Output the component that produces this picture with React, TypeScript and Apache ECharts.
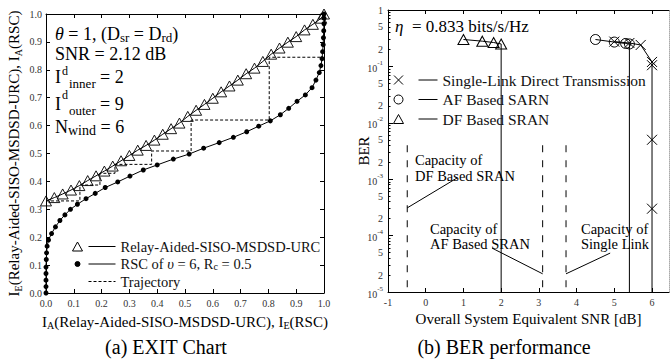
import React, { useEffect, useRef } from 'react';
import * as echarts from 'echarts';

const FONT = '"Liberation Serif", "Times New Roman", Times, serif';

// ---------- (a) EXIT chart ----------
const urcIA = [0, 0.03, 0.06, 0.09, 0.12, 0.15, 0.18, 0.21, 0.24, 0.27, 0.3, 0.33, 0.36, 0.39, 0.42, 0.45, 0.48, 0.51, 0.54, 0.57, 0.6, 0.63, 0.66, 0.69, 0.72, 0.75, 0.78, 0.81, 0.84, 0.87, 0.9, 0.93, 0.96, 0.99, 1.0];
const urcIE = [0.33, 0.342, 0.355, 0.369, 0.385, 0.403, 0.42, 0.437, 0.455, 0.474, 0.493, 0.512, 0.529, 0.548, 0.569, 0.589, 0.609, 0.633, 0.655, 0.676, 0.698, 0.721, 0.742, 0.763, 0.786, 0.806, 0.83, 0.856, 0.878, 0.899, 0.919, 0.943, 0.963, 0.985, 1.0];

const rscIE = [0, 0, 0, 0, 0, 0.001, 0.002, 0.004, 0.009, 0.02, 0.034, 0.05, 0.068, 0.088, 0.113, 0.144, 0.177, 0.213, 0.258, 0.302, 0.35, 0.4, 0.458, 0.515, 0.567, 0.623, 0.674, 0.722, 0.765, 0.807, 0.843, 0.873, 0.903, 0.933, 0.957, 0.971, 0.983, 0.989, 0.993, 0.995, 0.997, 0.998, 0.999, 1.0, 1.0, 1.0];
const rscIA = [0, 0.023, 0.046, 0.07, 0.093, 0.12, 0.144, 0.168, 0.19, 0.213, 0.237, 0.26, 0.28, 0.3, 0.318, 0.338, 0.357, 0.378, 0.398, 0.419, 0.441, 0.459, 0.48, 0.498, 0.519, 0.539, 0.558, 0.578, 0.598, 0.617, 0.639, 0.662, 0.687, 0.71, 0.736, 0.763, 0.79, 0.815, 0.84, 0.865, 0.89, 0.915, 0.94, 0.965, 0.985, 1.0];

const trajX = [0, 0.122, 0.122, 0.194, 0.194, 0.248, 0.248, 0.38, 0.38, 0.522, 0.522, 0.803, 0.803, 0.993];
const trajY = [0.33, 0.33, 0.387, 0.387, 0.429, 0.429, 0.461, 0.461, 0.509, 0.509, 0.62, 0.62, 0.845, 0.845];

// ---------- (b) BER performance ----------
const sdtSNR = [5.0, 5.4, 5.7, 6.0, 6.0, 6.0, 6.0, 6.0];
const sdtBER = [0.275, 0.26, 0.24, 0.12, 0.105, 0.005, 0.0003, 1e-5];
const afSNR = [4.5, 5.0, 5.3, 5.4, 5.4];
const afBER = [0.3, 0.27, 0.255, 0.25, 1e-5];
const dfSNR = [1.0, 1.5, 1.8, 2.0, 2.0];
const dfBER = [0.3, 0.28, 0.265, 0.25, 1e-5];
const capacitySNR = [-0.49, 3.1, 3.72];
const capacityBER = [4e-3, 1e-5];

const berLabelValues = [1, 0.5, 0.2, 0.1, 0.05, 0.02, 0.01, 0.005, 0.002, 0.001, 5e-4, 2e-4, 1e-4, 5e-5, 2e-5, 1e-5];
const berMajorValues = [1, 0.1, 0.01, 0.001, 1e-4, 1e-5];
const berMinorValues = [
  0.9, 0.8, 0.7, 0.6, 0.5, 0.4, 0.3, 0.2,
  0.09, 0.08, 0.07, 0.06, 0.05, 0.04, 0.03, 0.02,
  0.009, 0.008, 0.007, 0.006, 0.005, 0.004, 0.003, 0.002,
  9e-4, 8e-4, 7e-4, 6e-4, 5e-4, 4e-4, 3e-4, 2e-4,
  9e-5, 8e-5, 7e-5, 6e-5, 5e-5, 4e-5, 3e-5, 2e-5,
];
const snrTicks = [-1, 0, 1, 2, 3, 4, 5, 6];

const zip = (xs: number[], ys: number[]) => xs.map((x, i) => [x, ys[i]]);
const dropLast = (xs: number[], ys: number[]) =>
  xs.map((x, i) => (i === xs.length - 1 ? { value: [x, ys[i]], symbol: 'none' } : [x, ys[i]]));

const axisColor = '#000';
const labelColor = '#333';

const frameAxis = (extra: any) => ({
  splitLine: { show: false },
  axisLine: { show: true, onZero: false, lineStyle: { color: axisColor, width: 1 } },
  axisTick: { show: true, inside: true, length: 4, lineStyle: { color: axisColor } },
  axisLabel: { show: false },
  ...extra,
});

const subRich = {
  s: { fontFamily: FONT, fontSize: 10, lineHeight: 10, verticalAlign: 'bottom', color: '#000' },
};

const exitLabel = {
  show: true,
  fontFamily: FONT,
  fontSize: 10,
  color: labelColor,
  margin: 5,
  formatter: (v: number) => v.toFixed(1),
};

const berLabelFormatter = (v: number) => {
  const e = Math.floor(v + 1e-6);
  const m = Math.round(Math.pow(10, v - e));
  if (m === 1) return e === 0 ? '1' : `{b|10}{s|${e}}`;
  return String(m);
};

const legendLabels: Record<string, string> = {
  'Relay-Aided-SISO-MSDSD-URC': 'Relay-Aided-SISO-MSDSD-URC',
  RSC: 'RSC of {it|υ} = 6, R{s|c} = 0.5',
  Trajectory: 'Trajectory',
  'Single-Link Direct Transmission': 'Single-Link Direct Transmission',
  'AF Based SARN': 'AF Based SARN',
  'DF Based SRAN': 'DF Based SRAN',
};

const legendText = (size: number) => ({
  fontFamily: FONT,
  fontSize: size,
  color: '#111',
  rich: {
    it: { fontFamily: FONT, fontSize: size, fontStyle: 'italic', color: '#111' },
    s: { fontFamily: FONT, fontSize: size * 0.7, lineHeight: 9, verticalAlign: 'bottom', color: '#111' },
  },
});

const bbox42 = ' M0,0 M43,11';
const bbox44 = ' M0,0 M44,12';

const textEl = (text: string, x: number, y: number, size: number, extra: any = {}) => ({
  type: 'text',
  x,
  y,
  silent: true,
  style: {
    text,
    fontFamily: FONT,
    fontSize: size,
    fill: '#000',
    verticalAlign: 'middle',
    ...extra,
  },
});

const annRich = {
  it: { fontFamily: FONT, fontSize: 18, fontStyle: 'italic', lineHeight: 20, fill: '#000' },
  s: { fontFamily: FONT, fontSize: 13, lineHeight: 11, verticalAlign: 'bottom', fill: '#000' },
  t: { fontFamily: FONT, fontSize: 14, lineHeight: 11, verticalAlign: 'bottom', fill: '#000' },
};

const option: any = {
  animation: false,
  backgroundColor: '#fff',
  grid: [
    { left: 46, top: 14, width: 278, height: 279, outerBoundsMode: 'none', containLabel: false },
    { left: 388, top: 10, width: 281, height: 282, outerBoundsMode: 'none', containLabel: false },
  ],
  xAxis: [
    frameAxis({
      gridIndex: 0,
      type: 'value',
      position: 'bottom',
      min: 0,
      max: 1,
      interval: 0.1,
      axisLabel: exitLabel,
      name: 'I{s|A}(Relay-Aided-SISO-MSDSD-URC), I{s|E}(RSC)',
      nameLocation: 'middle',
      nameGap: 14,
      nameTextStyle: { fontFamily: FONT, fontSize: 15, lineHeight: 18, color: '#000', verticalAlign: 'top', rich: subRich },
    }),
    frameAxis({ gridIndex: 0, type: 'value', position: 'top', min: 0, max: 1, interval: 0.1 }),
    frameAxis({
      gridIndex: 1,
      type: 'value',
      position: 'bottom',
      min: -1,
      max: 6.45,
      interval: 1,
      axisTick: { show: true, inside: true, length: 4, customValues: snrTicks, lineStyle: { color: axisColor } },
      axisLabel: {
        show: true,
        fontFamily: FONT,
        fontSize: 10,
        color: labelColor,
        margin: 5,
        customValues: snrTicks,
        formatter: (v: number) => String(Math.round(v)),
      },
      name: 'Overall System Equivalent SNR [dB]',
      nameLocation: 'middle',
      nameGap: 19,
      nameTextStyle: { fontFamily: FONT, fontSize: 15, color: '#000', verticalAlign: 'top' },
    }),
    frameAxis({
      gridIndex: 1,
      type: 'value',
      position: 'top',
      min: -1,
      max: 6.45,
      interval: 1,
      axisTick: { show: true, inside: true, length: 4, customValues: snrTicks, lineStyle: { color: axisColor } },
    }),
  ],
  yAxis: [
    frameAxis({
      gridIndex: 0,
      type: 'value',
      position: 'left',
      min: 0,
      max: 1,
      interval: 0.1,
      axisLabel: { ...exitLabel, margin: 4 },
      name: 'I{s|E}(Relay-Aided-SISO-MSDSD-URC), I{s|A}(RSC)',
      nameLocation: 'middle',
      nameGap: 23,
      nameTextStyle: { fontFamily: FONT, fontSize: 15, lineHeight: 18, color: '#000', rich: subRich },
    }),
    frameAxis({ gridIndex: 0, type: 'value', position: 'right', min: 0, max: 1, interval: 0.1 }),
    // data axis (log)
    {
      gridIndex: 1,
      type: 'log',
      logBase: 10,
      position: 'left',
      min: 1e-5,
      max: 1,
      splitLine: { show: false },
      axisLine: { show: true, onZero: false, lineStyle: { color: axisColor, width: 1 } },
      axisTick: { show: false },
      minorTick: { show: false },
      axisLabel: { show: false },
      name: 'BER',
      nameLocation: 'middle',
      nameGap: 17,
      nameTextStyle: { fontFamily: FONT, fontSize: 15, color: '#000' },
    },
    // labels + major ticks (log10 space overlay)
    {
      gridIndex: 1,
      type: 'value',
      position: 'left',
      min: -5,
      max: 0,
      splitLine: { show: false },
      axisLine: { show: false, onZero: false },
      axisTick: {
        show: true,
        inside: true,
        length: 5,
        customValues: berMajorValues.map((v) => Math.log10(v)),
        lineStyle: { color: axisColor },
      },
      axisLabel: {
        show: true,
        fontFamily: FONT,
        fontSize: 10,
        color: labelColor,
        margin: 5,
        customValues: berLabelValues.map((v) => Math.log10(v)),
        formatter: berLabelFormatter,
        rich: {
          b: { fontFamily: FONT, fontSize: 10, lineHeight: 14, verticalAlign: 'bottom', color: labelColor },
          s: { fontFamily: FONT, fontSize: 7, lineHeight: 6, verticalAlign: 'top', color: labelColor },
        },
      },
    },
    // minor ticks
    {
      gridIndex: 1,
      type: 'value',
      position: 'left',
      min: -5,
      max: 0,
      splitLine: { show: false },
      axisLine: { show: false, onZero: false },
      axisTick: {
        show: true,
        inside: true,
        length: 2.5,
        customValues: berMinorValues.map((v) => Math.log10(v)),
        lineStyle: { color: axisColor },
      },
      axisLabel: { show: false },
    },
    // right frame
    {
      gridIndex: 1,
      type: 'value',
      position: 'right',
      min: -5,
      max: 0,
      splitLine: { show: false },
      axisLine: { show: true, onZero: false, lineStyle: { color: '#aaa', width: 1, type: 'dotted' } },
      axisTick: { show: false },
      axisLabel: { show: false },
    },
  ],
  legend: [
    {
      left: 72,
      top: 239,
      orient: 'vertical',
      padding: 0,
      itemGap: 2.5,
      itemWidth: 43,
      itemHeight: 11,
      selectedMode: false,
      textStyle: legendText(14.5),
      formatter: (name: string) => legendLabels[name],
      data: [
        {
          name: 'Relay-Aided-SISO-MSDSD-URC',
          icon: 'path://M0,10 L5,1 L10,10 Z M16,5.5 L43,5.5' + bbox42,
          itemStyle: { color: 'rgba(0,0,0,0)', borderColor: '#000', borderWidth: 1 },
        },
        {
          name: 'RSC',
          icon: 'path://M2.5,5.5 A2.5,2.5 0 1 1 7.5,5.5 A2.5,2.5 0 1 1 2.5,5.5 Z M16,5.5 L43,5.5' + bbox42,
          itemStyle: { color: '#000', borderColor: '#000', borderWidth: 1 },
        },
        {
          name: 'Trajectory',
          icon: 'path://M16,5.5 L19,5.5 M21,5.5 L24,5.5 M26,5.5 L29,5.5 M31,5.5 L34,5.5 M36,5.5 L39,5.5 M41,5.5 L43,5.5' + bbox42,
          itemStyle: { color: 'rgba(0,0,0,0)', borderColor: '#000', borderWidth: 1 },
        },
      ],
    },
    {
      left: 393,
      top: 72,
      orient: 'vertical',
      padding: 0,
      itemGap: 3.5,
      itemWidth: 44,
      itemHeight: 12,
      selectedMode: false,
      textStyle: legendText(15.5),
      formatter: (name: string) => legendLabels[name],
      data: [
        {
          name: 'Single-Link Direct Transmission',
          icon: 'path://M0.5,1.5 L9.5,10.5 M9.5,1.5 L0.5,10.5 M25,6 L44,6' + bbox44,
          itemStyle: { color: 'rgba(0,0,0,0)', borderColor: '#000', borderWidth: 1 },
        },
        {
          name: 'AF Based SARN',
          icon: 'path://M0.5,6 A4.5,4.5 0 1 1 9.5,6 A4.5,4.5 0 1 1 0.5,6 Z M25,6 L44,6' + bbox44,
          itemStyle: { color: 'rgba(0,0,0,0)', borderColor: '#000', borderWidth: 1 },
        },
        {
          name: 'DF Based SRAN',
          icon: 'path://M0,10.5 L5,1.5 L10,10.5 Z M25,6 L44,6' + bbox44,
          itemStyle: { color: 'rgba(0,0,0,0)', borderColor: '#000', borderWidth: 1 },
        },
      ],
    },
  ],
  series: [
    {
      name: 'Trajectory',
      type: 'line',
      xAxisIndex: 0,
      yAxisIndex: 0,
      data: zip(trajX, trajY),
      symbol: 'none',
      lineStyle: { color: '#000', width: 1, type: [3, 2] },
      z: 1,
    },
    {
      name: 'RSC',
      type: 'line',
      xAxisIndex: 0,
      yAxisIndex: 0,
      data: zip(rscIE, rscIA),
      symbol: 'circle',
      symbolSize: 5,
      clip: false,
      itemStyle: { color: '#000' },
      lineStyle: { color: '#000', width: 1 },
      z: 2,
    },
    {
      name: 'Relay-Aided-SISO-MSDSD-URC',
      type: 'line',
      xAxisIndex: 0,
      yAxisIndex: 0,
      data: zip(urcIA, urcIE),
      symbol: 'triangle',
      symbolSize: [11, 10],
      clip: false,
      itemStyle: { color: 'rgba(0,0,0,0)', borderColor: '#000', borderWidth: 0.9 },
      lineStyle: { color: '#000', width: 1 },
      z: 3,
    },
    ...capacitySNR.map((x, i) => ({
      name: 'capacity' + i,
      type: 'line',
      xAxisIndex: 2,
      yAxisIndex: 2,
      data: capacityBER.map((b) => [x, b]),
      symbol: 'none',
      lineStyle: { color: '#000', width: 1, type: [7, 8] },
    })),
    {
      name: 'DF Based SRAN',
      type: 'line',
      xAxisIndex: 2,
      yAxisIndex: 2,
      data: dropLast(dfSNR, dfBER),
      symbol: 'triangle',
      symbolSize: [11, 10],
      itemStyle: { color: 'rgba(0,0,0,0)', borderColor: '#000', borderWidth: 1 },
      lineStyle: { color: '#000', width: 1 },
    },
    {
      name: 'AF Based SARN',
      type: 'line',
      xAxisIndex: 2,
      yAxisIndex: 2,
      data: dropLast(afSNR, afBER),
      symbol: 'circle',
      symbolSize: 10,
      itemStyle: { color: 'rgba(0,0,0,0)', borderColor: '#000', borderWidth: 1 },
      lineStyle: { color: '#000', width: 1 },
    },
    {
      name: 'Single-Link Direct Transmission',
      type: 'line',
      xAxisIndex: 2,
      yAxisIndex: 2,
      data: dropLast(sdtSNR, sdtBER),
      symbol: 'path://M0,0 L10,10 M10,0 L0,10',
      symbolSize: 10,
      itemStyle: { color: 'rgba(0,0,0,0)', borderColor: '#000', borderWidth: 1 },
      lineStyle: { color: '#000', width: 1 },
    },
    // annotation pointers (data coordinates)
    ...[
      [[0.83, 1.05e-3], [-0.49, 3.1e-4]],
      [[1.76, 6.0e-5], [3.1, 2.1e-5]],
      [[4.89, 4.9e-5], [3.72, 2.1e-5]],
    ].map((seg, i) => ({
      name: 'pointer' + i,
      type: 'line',
      xAxisIndex: 2,
      yAxisIndex: 2,
      data: seg,
      symbol: 'none',
      silent: true,
      lineStyle: { color: '#000', width: 1 },
    })),
  ],
  graphic: [
    // (a) annotations
    textEl('{it|θ} = 1, (D{s|sr} = D{s|rd})', 55, 34, 18, { lineHeight: 20, rich: annRich }),
    textEl('SNR = 2.12 dB', 55, 54, 18, { lineHeight: 16 }),
    textEl('I', 55, 77, 18, { lineHeight: 16 }),
    textEl('d', 62, 70.5, 12, { lineHeight: 10 }),
    textEl('inner', 69, 83, 13, { lineHeight: 10 }),
    textEl('= 2', 100, 77, 18, { lineHeight: 16 }),
    textEl('I', 55, 104, 18, { lineHeight: 16 }),
    textEl('d', 62, 95, 12, { lineHeight: 10 }),
    textEl('outer', 69, 110, 13, { lineHeight: 10 }),
    textEl('= 9', 100, 104, 18, { lineHeight: 16 }),
    textEl('N{t|wind} = 6', 55, 127, 18, { lineHeight: 20, rich: annRich }),
    // (b) annotations
    textEl('{it|η}  = 0.833 bits/s/Hz', 395, 26, 17, {
      lineHeight: 20,
      rich: { it: { fontFamily: FONT, fontSize: 17, fontStyle: 'italic', lineHeight: 20, fill: '#000' } },
    }),
    textEl('Capacity of\nDF Based SRAN', 415, 152, 14.5, { verticalAlign: 'top', lineHeight: 16 }),
    textEl('Capacity of\nAF Based SRAN', 430, 221, 14.5, { verticalAlign: 'top', lineHeight: 15 }),
    textEl('Capacity of\nSingle Link', 581, 221, 14.5, { verticalAlign: 'top', lineHeight: 15 }),
    // captions
    textEl('(a) EXIT Chart', 166, 347, 20, { align: 'center', lineHeight: 20 }),
    textEl('(b) BER performance', 504, 347, 20, { align: 'center', lineHeight: 20 }),
  ],
};

export default function App() {
  const ref = useRef<HTMLDivElement>(null);
  useEffect(() => {
    document.body.style.margin = '0';
    const chart = echarts.init(ref.current!, undefined, { renderer: 'svg' });
    chart.setOption(option);
    return () => chart.dispose();
  }, []);
  return <div ref={ref} style={{ position: 'fixed', left: 0, top: 0, width: 670, height: 360 }} />;
}
